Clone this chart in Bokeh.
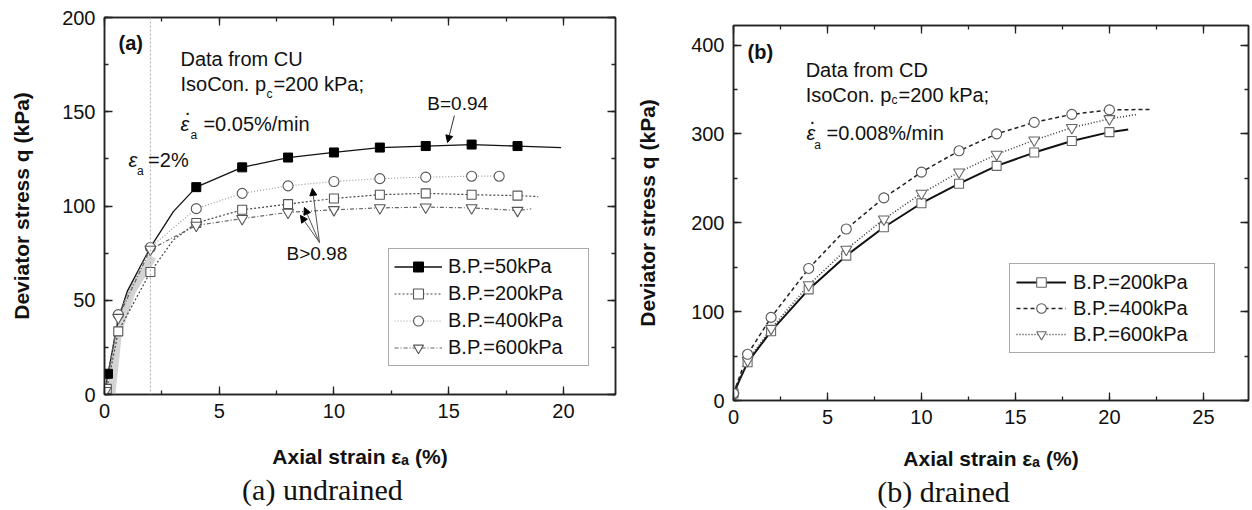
from bokeh.plotting import figure
from bokeh.models import (Range1d, LinearAxis, SingleIntervalTicker, FixedTicker, Label, Arrow,
                          NormalHead, Span, Legend, LegendItem, CustomJSTickFormatter, Spacer)
from bokeh.layouts import row, column
from bokeh.embed import file_html
from bokeh.resources import INLINE

# ---------------- data: (a) undrained (CU) ----------------
a_labels = ["B.P.=50kPa", "B.P.=200kPa", "B.P.=400kPa", "B.P.=600kPa"]

a50_curve_x = [0, 0.15, 0.6, 1, 2, 3, 4, 6, 8, 10, 12, 14, 16, 18, 19.9]
a50_curve_y = [0, 11, 40, 55, 78, 97, 110, 120.5, 125.7, 128.4, 131, 131.8, 132.6, 131.8, 131]
a50_mark_x = [0.15, 4, 6, 8, 10, 12, 14, 16, 18]
a50_mark_y = [11, 110, 120.5, 125.7, 128.4, 131, 131.8, 132.6, 131.8]

a200_curve_x = [0, 0.1, 0.6, 2, 3, 4, 6, 8, 10, 12, 14, 16, 18, 18.9]
a200_curve_y = [0, 3, 33.5, 65, 82, 91, 98, 101, 104, 106, 106.7, 106, 105.5, 105]
a200_mark_x = [0.1, 0.6, 2, 4, 6, 8, 10, 12, 14, 16, 18]
a200_mark_y = [3, 33.5, 65, 91, 98, 101, 104, 106, 106.7, 106, 105.5]

a400_curve_x = [0, 0.05, 0.6, 2, 4, 6, 8, 10, 12, 14, 16, 17.2]
a400_curve_y = [0, 2, 42.4, 78, 98.6, 106.7, 110.7, 113, 114.5, 115.3, 115.8, 115.8]
a400_mark_x = [0.6, 2, 4, 6, 8, 10, 12, 14, 16, 17.2]
a400_mark_y = [42.4, 78, 98.6, 106.7, 110.7, 113, 114.5, 115.3, 115.8, 115.8]

a600_curve_x = [0, 0.05, 0.6, 2, 4, 6, 8, 10, 12, 14, 16, 18, 18.6]
a600_curve_y = [0, 2, 40.8, 77, 89.7, 93.3, 96.6, 98, 99, 99.4, 99, 97.6, 98.5]
a600_mark_x = [0.05, 0.6, 2, 4, 6, 8, 10, 12, 14, 16, 18]
a600_mark_y = [2, 40.8, 77, 89.7, 93.3, 96.6, 98, 99, 99.4, 99, 97.6]

a_shade_x = [0.3, 0.6, 1.2, 2.1]
a_shade_y = [0, 34, 55, 73]
a_strain_line = 2

# ---------------- data: (b) drained (CD) ----------------
b_labels = ["B.P.=200kPa", "B.P.=400kPa", "B.P.=600kPa"]
b_x = [0, 0.75, 2, 4, 6, 8, 10, 12, 14, 16, 18, 20]
b200_y = [8, 43, 78, 125, 163, 195, 222, 244, 264, 279, 292, 302]
b400_y = [8, 52, 93.5, 148.6, 193, 228, 257, 281, 300, 313, 322, 327]
b600_y = [5, 45, 81, 130, 170, 204, 233, 257, 277, 293, 307, 317]
b200_end = (21, 305)
b400_end = (22.2, 327.6)
b600_end = (21.5, 322)

captions = ["(a) undrained", "(b) drained"]

FONT = "Liberation Sans"


def style_axes(p, xint, yint, xstand, ystand):
    xa = p.below[0]
    ya = p.left[0]
    xa.ticker = SingleIntervalTicker(interval=xint, num_minor_ticks=2)
    ya.ticker = SingleIntervalTicker(interval=yint, num_minor_ticks=2)
    mirrors = []
    for side, interval in (("above", xint), ("right", yint)):
        ax = LinearAxis(ticker=SingleIntervalTicker(interval=interval, num_minor_ticks=2),
                        formatter=CustomJSTickFormatter(code="return ''"))
        ax.major_label_standoff = 0
        ax.major_label_text_font_size = "2px"
        p.add_layout(ax, side)
        mirrors.append(ax)
    for ax in [xa, ya] + mirrors:
        ax.major_tick_in = 8
        ax.major_tick_out = 0
        ax.minor_tick_in = 4
        ax.minor_tick_out = 0
        ax.axis_line_width = 1.5
        ax.major_tick_line_width = 1.3
        ax.minor_tick_line_width = 1.3
        ax.axis_line_color = "#222222"
        ax.major_tick_line_color = "#222222"
        ax.minor_tick_line_color = "#222222"
    for ax in (xa, ya):
        ax.major_label_text_font = FONT
        ax.major_label_text_font_size = "20px"
        ax.major_label_text_color = "#111111"
        ax.axis_label_text_font = FONT
        ax.axis_label_text_font_style = "bold"
        ax.axis_label_text_font_size = "21px"
        ax.axis_label_text_color = "#111111"
        ax.major_label_standoff = 9
    xa.axis_label_standoff = xstand
    ya.axis_label_standoff = ystand
    p.grid.visible = False
    p.outline_line_color = "#222222"
    p.outline_line_width = 1.5


def add_caption(p, text, pad, standoff):
    # trailing em/en spaces shift the (frame-centred) caption to the left
    cap = LinearAxis(ticker=FixedTicker(ticks=[]), axis_label=text + pad,
                     axis_line_color=None, major_tick_line_color=None,
                     minor_tick_line_color=None, major_tick_in=0, major_tick_out=0,
                     minor_tick_in=0, minor_tick_out=0, major_label_standoff=0,
                     major_label_text_font_size="2px",
                     formatter=CustomJSTickFormatter(code="return ''"),
                     axis_label_standoff=standoff, axis_label_text_font="Liberation Serif",
                     axis_label_text_font_size="30px", axis_label_text_font_style="normal",
                     axis_label_text_color="#111111")
    p.add_layout(cap, "below")


def txt(p, x, y, t, size="20px", style="normal", align="left", font=FONT):
    p.add_layout(Label(x=x, y=y, text=t, text_font=font, text_font_size=size,
                       text_font_style=style, text_baseline="middle",
                       text_align=align, text_color="#111111"))


# ================= panel (a) =================
pa = figure(width=622, height=510, x_range=Range1d(0, 22.27), y_range=Range1d(0, 200),
            output_backend="svg", toolbar_location=None,
            min_border_left=104, min_border_right=7, min_border_top=17, min_border_bottom=116)
pa.xaxis.axis_label = "Axial strain εₐ (%)"
pa.yaxis.axis_label = "Deviator stress q (kPa)"
style_axes(pa, 5, 50, 24, 26)
add_caption(pa, captions[0], "\u2003\u2003\u2002", 2)

pa.line(a_shade_x, a_shade_y, line_color="#cfcfcf", line_width=8, line_alpha=0.9)
pa.add_layout(Span(location=a_strain_line, dimension="height", line_color="#aaaaaa",
                   line_width=1, line_dash="2 2"))

r = {}
r["50l"] = pa.line(a50_curve_x, a50_curve_y, line_color="#111111", line_width=1.3)
r["200l"] = pa.line(a200_curve_x, a200_curve_y, line_color="#444444", line_width=1.2, line_dash="2 2")
r["400l"] = pa.line(a400_curve_x, a400_curve_y, line_color="#9a9a9a", line_width=1.2, line_dash="1 2")
r["600l"] = pa.line(a600_curve_x, a600_curve_y, line_color="#666666", line_width=1.2, line_dash="4 2 1 2")
r["200m"] = pa.scatter(a200_mark_x, a200_mark_y, marker="square", size=9, fill_color="white",
                       line_color="#555555", line_width=1.1)
r["400m"] = pa.scatter(a400_mark_x, a400_mark_y, marker="circle", size=10, fill_color="white",
                       line_color="#555555", line_width=1.1)
r["600m"] = pa.scatter(a600_mark_x, a600_mark_y, marker="inverted_triangle", size=11, fill_color="white",
                       line_color="#555555", line_width=1.1)
r["50m"] = pa.scatter(a50_mark_x, a50_mark_y, marker="square", size=9, fill_color="black",
                      line_color="black")

leg_a = Legend(items=[LegendItem(label=a_labels[0], renderers=[r["50l"], r["50m"]]),
                      LegendItem(label=a_labels[1], renderers=[r["200l"], r["200m"]]),
                      LegendItem(label=a_labels[2], renderers=[r["400l"], r["400m"]]),
                      LegendItem(label=a_labels[3], renderers=[r["600l"], r["600m"]])],
               location=(284, 28), orientation="vertical",
               label_text_font=FONT, label_text_font_size="20px", label_text_color="#111111",
               glyph_width=48, glyph_height=25, label_height=25, label_width=135,
               label_standoff=6, spacing=2, padding=5, margin=0,
               border_line_color="#555555", border_line_width=1, background_fill_alpha=1)
pa.add_layout(leg_a)

txt(pa, 0.61, 186.7, "(a)", style="bold")
txt(pa, 3.31, 178.2, "Data from CU")
txt(pa, 3.31, 164.5, "IsoCon. p")
txt(pa, 7.06, 159.5, "c", size="12px")
txt(pa, 7.36, 164.5, "=200 kPa;")
txt(pa, 3.31, 143.7, "ε", style="italic")
txt(pa, 3.62, 150.0, "·", align="center")
txt(pa, 3.75, 137.5, "a", size="12px")
txt(pa, 4.31, 143.7, "=0.05%/min")
txt(pa, 1.05, 124.4, "ε", style="italic")
txt(pa, 1.42, 118.5, "a", size="12px")
txt(pa, 1.90, 124.4, "=2%")
txt(pa, 14.07, 154.4, "B=0.94", size="19px")
txt(pa, 7.93, 74.8, "B>0.98", size="19px")

head = dict(size=7, fill_color="black", line_color="black")
pa.add_layout(Arrow(end=NormalHead(**head), x_start=15.25, y_start=148, x_end=14.95, y_end=133.7,
                    line_width=1, line_color="#333333"))
for hx, hy in ((9.06, 109.3), (8.71, 99.2), (8.54, 95)):
    pa.add_layout(Arrow(end=NormalHead(**head), x_start=9.37, y_start=80.6, x_end=hx, y_end=hy,
                        line_width=1, line_color="#555555"))

# ================= panel (b) =================
pb = figure(width=630, height=502, x_range=Range1d(0, 27.4), y_range=Range1d(0, 422),
            output_backend="svg", toolbar_location=None,
            min_border_left=111, min_border_right=4, min_border_top=17, min_border_bottom=110)
pb.xaxis.axis_label = "Axial strain εₐ (%)"
pb.yaxis.axis_label = "Deviator stress q (kPa)"
style_axes(pb, 5, 100, 20, 29)
add_caption(pb, captions[1], "\u2003\u2003\u2003\u2006", 2)

rb = {}
rb["200l"] = pb.line(b_x + [b200_end[0]], b200_y + [b200_end[1]], line_color="#111111", line_width=2)
rb["400l"] = pb.line(b_x + [b400_end[0]], b400_y + [b400_end[1]], line_color="#222222", line_width=1.5,
                     line_dash="4 3")
rb["600l"] = pb.line(b_x + [b600_end[0]], b600_y + [b600_end[1]], line_color="#333333", line_width=1.5,
                     line_dash="1 2")
rb["200m"] = pb.scatter(b_x, b200_y, marker="square", size=9, fill_color="white",
                        line_color="#666666", line_width=1.1)
rb["600m"] = pb.scatter(b_x, b600_y, marker="inverted_triangle", size=11, fill_color="white",
                        line_color="#666666", line_width=1.1)
rb["400m"] = pb.scatter(b_x, b400_y, marker="circle", size=10, fill_color="white",
                        line_color="#555555", line_width=1.1)

leg_b = Legend(items=[LegendItem(label=b_labels[0], renderers=[rb["200l"], rb["200m"]]),
                      LegendItem(label=b_labels[1], renderers=[rb["400l"], rb["400m"]]),
                      LegendItem(label=b_labels[2], renderers=[rb["600l"], rb["600m"]])],
               location=(276, 47), orientation="vertical",
               label_text_font=FONT, label_text_font_size="20px", label_text_color="#111111",
               glyph_width=50, glyph_height=24, label_height=24, label_width=135,
               label_standoff=7, spacing=2, padding=6, margin=0,
               border_line_color="#555555", border_line_width=1, background_fill_alpha=1)
pb.add_layout(leg_b)

txt(pb, 0.75, 392, "(b)", style="bold")
txt(pb, 3.84, 372, "Data from CD")
txt(pb, 3.84, 343.7, "IsoCon. p")
txt(pb, 8.40, 338, "c", size="12px")
txt(pb, 8.78, 343.7, "=200 kPa;")
txt(pb, 3.88, 300.8, "ε", style="italic")
txt(pb, 4.2, 314, "·", align="center")
txt(pb, 4.30, 287, "a", size="12px")
txt(pb, 4.95, 300.8, "=0.008%/min")

layout = row(pa, column(Spacer(width=630, height=8), pb))
open("out.html", "w").write(file_html(layout, INLINE))
